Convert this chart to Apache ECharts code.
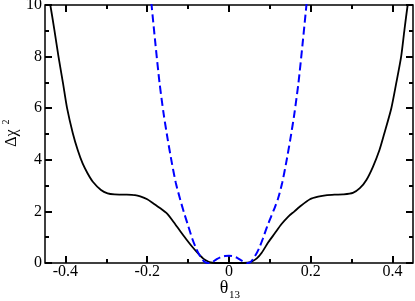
<!DOCTYPE html>
<html>
<head>
<meta charset="utf-8">
<script src="https://cdn.jsdelivr.net/npm/echarts@6/dist/echarts.min.js"></script>
<style>html,body{margin:0;padding:0;background:#fff}#c{width:415px;height:301px}</style>
</head>
<body>
<div id="c"></div>
<script>
var blackX = [-0.447, -0.437, -0.427, -0.417, -0.406, -0.396, -0.382, -0.37, -0.358, -0.346, -0.333, -0.313, -0.297, -0.28, -0.25, -0.23, -0.217, -0.2, -0.185, -0.168, -0.152, -0.136, -0.12, -0.105, -0.091, -0.075, -0.063, -0.05, -0.04, -0.02, 0, 0.02, 0.045, 0.055, 0.068, 0.08, 0.096, 0.112, 0.128, 0.145, 0.16, 0.173, 0.198, 0.218, 0.24, 0.26, 0.279, 0.303, 0.32, 0.336, 0.352, 0.368, 0.38, 0.397, 0.409, 0.421, 0.429, 0.437, 0.447];
var blackY = [10.9, 10, 9.03, 8.0, 6.97, 6.0, 5.03, 4.38, 3.86, 3.48, 3.15, 2.83, 2.70, 2.66, 2.65, 2.63, 2.58, 2.47, 2.31, 2.12, 1.92, 1.6, 1.25, 0.93, 0.65, 0.36, 0.17, 0.05, 0.01, 0, 0, 0, 0.01, 0.05, 0.18, 0.4, 0.8, 1.15, 1.5, 1.8, 2.0, 2.18, 2.47, 2.57, 2.63, 2.65, 2.66, 2.72, 2.9, 3.22, 3.73, 4.38, 5.03, 6.0, 6.97, 8.0, 9.03, 10, 11.0];
var blueX = [-0.19, -0.18, -0.17, -0.16, -0.15, -0.14, -0.13, -0.12, -0.11, -0.1, -0.09, -0.08, -0.07, -0.06, -0.05, -0.04, -0.03, -0.02, -0.01, 0, 0.01, 0.02, 0.03, 0.045, 0.053, 0.063, 0.073, 0.083, 0.093, 0.103, 0.112, 0.12, 0.13, 0.14, 0.15, 0.16, 0.17, 0.18, 0.19];
var blueY = [10.1, 8.5, 7.0, 5.8, 4.8, 3.9, 3.1, 2.5, 1.95, 1.45, 0.95, 0.55, 0.25, 0.05, 0.0, 0.04, 0.15, 0.23, 0.27, 0.28, 0.26, 0.2, 0.1, 0.0, 0.04, 0.25, 0.55, 0.95, 1.4, 1.8, 2.15, 2.5, 3.1, 3.9, 4.8, 5.8, 7.0, 8.5, 10.1];
var xMajor = [-0.4, -0.2, 0, 0.2, 0.4];
var xMinor = [-0.3, -0.1, 0.1, 0.3];
var yMajor = [0, 2, 4, 6, 8, 10];
var yMinor = [1, 3, 5, 7, 9];
var xTitle = 'θ', xTitleSub = '13';
var yTitle = 'Δχ', yTitleSup = '2';

function zip(a, b) { return a.map(function (v, i) { return [v, b[i]]; }); }
var FONT = '"Liberation Serif","Times New Roman",serif';

function xAx(pos, vals, len, labels) {
  return {
    type: 'value', min: -0.45, max: 0.45, position: pos,
    axisLine: { show: false, onZero: false },
    splitLine: { show: false },
    axisTick: { show: true, inside: true, length: len, customValues: vals, lineStyle: { color: '#000', width: 2 } },
    axisLabel: { show: labels, customValues: vals, fontFamily: FONT, fontSize: 16, color: '#000', margin: 1,
      formatter: function (v) { return v === 0 ? '0' : String(v); } }
  };
}
function yAx(pos, vals, len, labels) {
  return {
    type: 'value', min: 0, max: 10, position: pos,
    axisLine: { show: false, onZero: false },
    splitLine: { show: false },
    axisTick: { show: true, inside: true, length: len, customValues: vals, lineStyle: { color: '#000', width: 2 } },
    axisLabel: { show: labels, customValues: vals, fontFamily: FONT, fontSize: 16, color: '#000', margin: 3 }
  };
}

var chart = echarts.init(document.getElementById('c'), null, { renderer: 'canvas' });
chart.setOption({
  animation: false,
  backgroundColor: '#fff',
  grid: { left: 45, right: 2, top: 5, bottom: 38, containLabel: false, outerBoundsMode: 'none',
    show: true, borderColor: '#000', borderWidth: 1.5, backgroundColor: 'transparent' },
  xAxis: [
    xAx('bottom', xMajor, 7, true),
    xAx('bottom', xMinor, 4, false),
    xAx('top', xMajor, 7, false),
    xAx('top', xMinor, 4, false)
  ],
  yAxis: [
    yAx('left', yMajor, 7, true),
    yAx('left', yMinor, 4, false),
    yAx('right', yMajor, 7, false),
    yAx('right', yMinor, 4, false)
  ],
  graphic: [
    { type: 'text', x: 224, y: 288, style: { text: xTitle, font: '18px ' + FONT, fill: '#000', textAlign: 'center', textVerticalAlign: 'middle' } },
    { type: 'text', x: 229, y: 295.5, style: { text: xTitleSub, font: '11px ' + FONT, fill: '#000', textAlign: 'left', textVerticalAlign: 'middle' } },
    { type: 'text', x: 12, y: 138, rotation: Math.PI / 2, style: { text: yTitle, font: '16px ' + FONT, fill: '#000', textAlign: 'center', textVerticalAlign: 'middle' } },
    { type: 'text', x: 6, y: 122, rotation: Math.PI / 2, style: { text: yTitleSup, font: '10px ' + FONT, fill: '#000', textAlign: 'center', textVerticalAlign: 'middle' } }
  ],
  series: [
    { type: 'line', xAxisIndex: 0, yAxisIndex: 0, data: zip(blackX, blackY), showSymbol: false, smooth: 0.25,
      lineStyle: { color: '#000', width: 1.8 }, clip: true, z: 3 },
    { type: 'line', xAxisIndex: 0, yAxisIndex: 0, data: zip(blueX, blueY), showSymbol: false, smooth: 0.25,
      lineStyle: { color: '#0000ff', width: 2, type: [8, 4] }, clip: true, z: 4 }
  ]
});
</script>
</body>
</html>
